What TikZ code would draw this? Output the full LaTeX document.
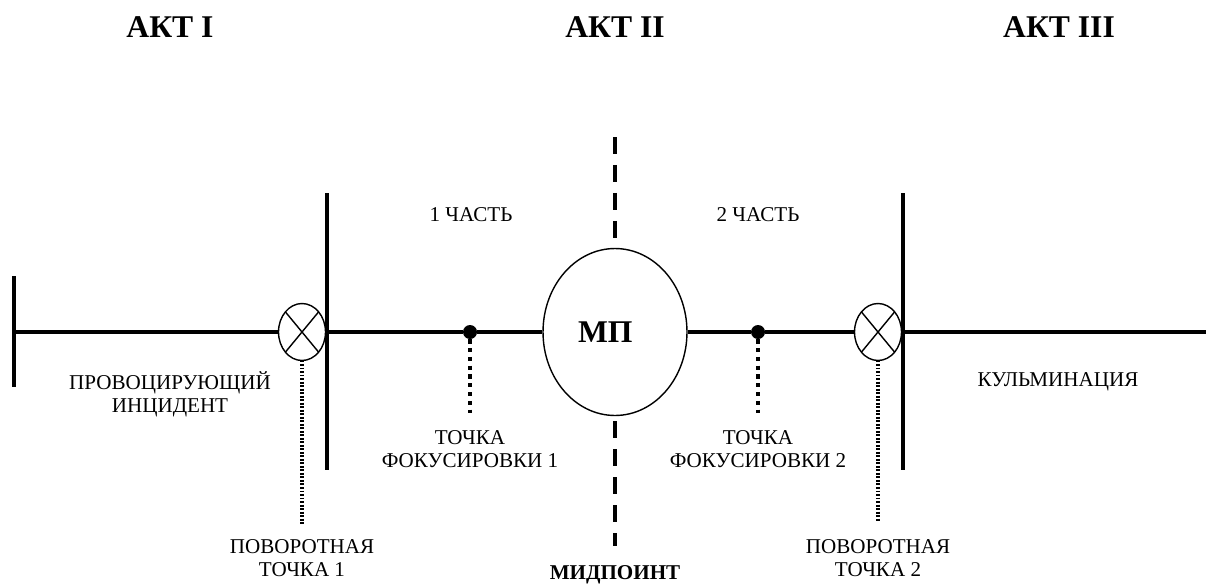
\documentclass[tikz,border=0pt]{standalone}
\usepackage{fontspec}
\setmainfont{Liberation Serif}
\usetikzlibrary{shapes.geometric}

\begin{document}
\begin{tikzpicture}[x=0.02cm, y=-0.02cm,
    mainline/.style={line width=1.8pt},
    actline/.style={line width=2pt},
    midline/.style={line width=1.8pt, dash pattern=on 9.5pt off 6.4pt},
    pivotline/.style={line width=1.9pt, dash pattern=on 1.1pt off 0.9pt},
    focusline/.style={line width=1.8pt, dash pattern=on 2.4pt off 2.6pt},
    turnpoint/.style={ellipse, draw, line width=0.8pt, fill=white, inner sep=0pt,
      outer sep=0pt, minimum width=0.94cm, minimum height=1.14cm},
    focuspoint/.style={circle, fill, inner sep=0pt, minimum size=0.28cm},
    label/.style={align=center, font=\fontsize{12}{13}\selectfont},
    actlabel/.style={font=\fontsize{18}{20}\selectfont\bfseries}]
  \useasboundingbox (0,0) rectangle (1206,585);

  % Act titles
  \node[actlabel] (act1) at (170,27) {АКТ I};
  \node[actlabel] (act2) at (615,27) {АКТ II};
  \node[actlabel] (act3) at (1059,27) {АКТ III};

  % Points on the timeline
  \coordinate (start) at (14,332);
  \coordinate (finish) at (1206,332);
  \node[turnpoint] (tp1) at (302,332) {};
  \node[focuspoint] (fp1) at (470,332) {};
  \node[ellipse, draw, line width=0.8pt, inner sep=0pt, minimum width=2.88cm,
    minimum height=3.34cm, font=\fontsize{18}{20}\selectfont\bfseries] (mp) at (615,332) {МП\hbox to 11pt{}};
  \node[focuspoint] (fp2) at (758,332) {};
  \node[turnpoint] (tp2) at (878,332) {};

  % Timeline
  \draw[mainline] (start) -- (tp1.west);
  \draw[mainline] (tp1.east) -- (fp1) -- (mp.west);
  \draw[mainline] (mp.east) -- (fp2) -- (tp2.west);
  \draw[mainline] (tp2.east) -- (finish);
  \draw[mainline] (14,276) -- (14,387);

  % Crosses in the turning points
  \draw[line width=0.8pt] (tp1.north west) -- (tp1.south east);
  \draw[line width=0.8pt] (tp1.north east) -- (tp1.south west);
  \draw[line width=0.8pt] (tp2.north west) -- (tp2.south east);
  \draw[line width=0.8pt] (tp2.north east) -- (tp2.south west);

  % Act borders
  \draw[actline] (327,193) -- (327,470);
  \draw[actline] (903,193) -- (903,470);

  % Midpoint line
  \coordinate (midtop) at (615,137);
  \coordinate (midbottom) at (615,546);
  \draw[midline] (midtop) -- (mp.north);
  \draw[midline] ([yshift=-3pt]mp.south) -- (midbottom);

  % Dotted leaders
  \coordinate (tp1end) at (302,525);
  \coordinate (tp2end) at (878,522);
  \coordinate (fp1end) at (470,413);
  \coordinate (fp2end) at (758,413);
  \draw[pivotline] (tp1.south) -- (tp1end);
  \draw[pivotline] (tp2.south) -- (tp2end);
  \draw[focusline] (fp1.south) -- (fp1end);
  \draw[focusline] (fp2.south) -- (fp2end);

  % Labels
  \node[label] (part1) at (471,215) {1 ЧАСТЬ};
  \node[label] (part2) at (758,215) {2 ЧАСТЬ};
  \node[label] (incident) at (170,394) {ПРОВОЦИРУЮЩИЙ\\ИНЦИДЕНТ};
  \node[label] (focus1) at (470,449) {ТОЧКА\\ФОКУСИРОВКИ 1};
  \node[label] (focus2) at (758,449) {ТОЧКА\\ФОКУСИРОВКИ 2};
  \node[label] (climax) at (1058,382) {КУЛЬМИНАЦИЯ};
  \node[label] (turn1) at (302,558) {ПОВОРОТНАЯ\\ТОЧКА 1};
  \node[label] (turn2) at (878,558) {ПОВОРОТНАЯ\\ТОЧКА 2};
  \node[font=\fontsize{12}{14}\selectfont\bfseries] (midpoint) at (615,575) {МИДПОИНТ};
\end{tikzpicture}
\end{document}
